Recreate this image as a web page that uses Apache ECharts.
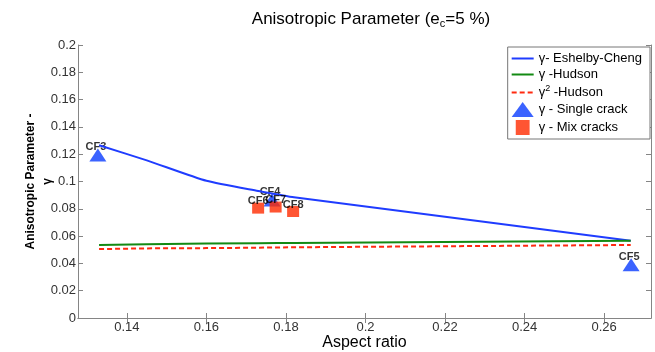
<!DOCTYPE html>
<html>
<head>
<meta charset="utf-8">
<script src="https://cdn.jsdelivr.net/npm/echarts@6/dist/echarts.min.js"></script>
<style>
  html, body { margin: 0; padding: 0; background: #fff; overflow: hidden; }
  #chart { width: 655px; height: 352px; }
</style>
</head>
<body>
<div id="chart"></div>
<script>
// model curves (aspect ratio -> gamma)
const curveX = [0.133, 0.145, 0.16, 0.173, 0.178, 0.182, 0.2667];
const eshelbyCheng = [0.1265, 0.1155, 0.1005, 0.093, 0.0905, 0.0885, 0.0566];
const hudson = [0.0535, 0.054, 0.0545, 0.0548, 0.0549, 0.055, 0.0566];
const hudsonSq = [0.0505, 0.051, 0.0512, 0.0515, 0.0517, 0.0518, 0.0535];

// measured samples
const singleNames = ["CF3", "CF4", "CF5"];
const singleX = [0.1327, 0.1765, 0.2668];
const singleY = [0.1195, 0.0865, 0.039];
const mixNames = ["CF6", "CF7", "CF8"];
const mixX = [0.173, 0.1774, 0.1818];
const mixY = [0.0805, 0.0813, 0.078];

const xTicks = [0.14, 0.16, 0.18, 0.2, 0.22, 0.24, 0.26];

const font = "Liberation Sans, Arial, sans-serif";
const zip = (xs, ys) => xs.map((x, i) => [x, ys[i]]);
const pts = (names, xs, ys) => names.map((n, i) => ({ name: n, value: [xs[i], ys[i]] }));

const chart = echarts.init(document.getElementById("chart"));
const ptLabel = {
  show: true,
  formatter: "{b}",
  position: "inside",
  offset: [-2, -8],
  color: "#000",
  fontWeight: "bold",
  fontSize: 11,
  fontFamily: font,
};
const gray = "#858585";
chart.setOption({
  backgroundColor: "#fff",
  animation: false,
  textStyle: { fontFamily: font },
  title: {
    text: "Anisotropic Parameter (e{s|c}=5 %)",
    left: 366,
    textAlign: "center",
    top: 4,
    textStyle: {
      fontSize: 17,
      fontWeight: "normal",
      color: "#000",
      fontFamily: font,
      rich: { s: { fontSize: 11, verticalAlign: "bottom", padding: [9, 0, 0, 0], fontFamily: font, color: "#000" } },
    },
  },
  legend: {
    right: 5,
    top: 47,
    orient: "vertical",
    backgroundColor: "#fff",
    borderColor: "#777",
    borderWidth: 1,
    padding: [5, 8, 4, 3],
    itemGap: 3,
    itemWidth: 22,
    itemHeight: 15,
    textStyle: {
      fontSize: 13,
      color: "#000",
      fontFamily: font,
      rich: { sup: { fontSize: 9, verticalAlign: "top", padding: [0, 0, 8, 0], color: "#000" } },
    },
    formatter: (name) => name === "g2" ? "γ{sup|2} -Hudson" : name,
    data: [
      { name: "γ- Eshelby-Cheng", itemStyle: { opacity: 0 } },
      { name: "γ -Hudson", itemStyle: { opacity: 0 } },
      { name: "g2", itemStyle: { opacity: 0 } },
      { name: "γ - Single crack", icon: "triangle" },
      { name: "γ - Mix cracks", icon: "path://M4,1 L16,1 L16,14 L4,14 Z" },
    ],
  },
  grid: { left: 78, right: 4, top: 45, bottom: 34, outerBoundsMode: "none" },
  xAxis: [
    {
      type: "value",
      min: 0.1277,
      max: 0.2718,
      name: "Aspect ratio",
      nameLocation: "middle",
      nameGap: 17,
      nameMoveOverlap: false,
      nameTextStyle: { fontSize: 16, color: "#000", fontFamily: font },
      axisLine: { lineStyle: { color: gray } },
      axisTick: { inside: true, length: 5, customValues: xTicks, lineStyle: { color: gray } },
      axisLabel: {
        customValues: xTicks,
        color: "#333",
        fontSize: 13,
        margin: 3,
        formatter: (v) => String(+v.toFixed(2)),
      },
      splitLine: { show: false },
    },
    {
      type: "value",
      position: "top",
      min: 0.1277,
      max: 0.2718,
      axisLine: { show: true, lineStyle: { color: gray } },
      axisTick: { show: true, inside: true, length: 5, customValues: xTicks, lineStyle: { color: gray } },
      axisLabel: { show: false },
      splitLine: { show: false },
    },
  ],
  yAxis: [
    {
      type: "value",
      min: 0,
      max: 0.2,
      interval: 0.02,
      name: "Anisotropic Parameter -\nγ",
      nameLocation: "middle",
      nameGap: 22,
      nameMoveOverlap: false,
      nameTextStyle: { fontSize: 12, fontWeight: "bold", color: "#000", fontFamily: font, lineHeight: 17 },
      axisLine: { show: true, lineStyle: { color: gray } },
      axisTick: { show: true, inside: true, length: 5, lineStyle: { color: gray } },
      axisLabel: {
        color: "#333",
        fontSize: 13,
        margin: 2,
        formatter: (v) => String(+v.toFixed(2)),
      },
      splitLine: { show: false },
    },
    {
      type: "value",
      position: "right",
      min: 0,
      max: 0.2,
      interval: 0.02,
      axisLine: { show: true, lineStyle: { color: gray } },
      axisTick: { show: true, inside: true, length: 5, lineStyle: { color: gray } },
      axisLabel: { show: false },
      splitLine: { show: false },
    },
  ],
  series: [
    {
      name: "γ- Eshelby-Cheng",
      type: "line",
      smooth: 0.2,
      symbol: "circle",
      showSymbol: false,
      color: "#1f3cff",
      lineStyle: { width: 2, color: "#1f3cff" },
      data: zip(curveX, eshelbyCheng),
    },
    {
      name: "γ -Hudson",
      type: "line",
      symbol: "circle",
      showSymbol: false,
      color: "#138a13",
      lineStyle: { width: 2, color: "#138a13" },
      data: zip(curveX, hudson),
    },
    {
      name: "g2",
      type: "line",
      symbol: "circle",
      showSymbol: false,
      color: "#ff2a10",
      lineStyle: { width: 2, type: [5, 3], color: "#ff2a10" },
      data: zip(curveX, hudsonSq),
    },
    {
      name: "γ - Single crack",
      type: "scatter",
      symbol: "triangle",
      symbolSize: [17, 13],
      color: "#0a3cff",
      itemStyle: { color: "#0a3cff" },
      label: ptLabel,
      data: pts(singleNames, singleX, singleY),
    },
    {
      name: "γ - Mix cracks",
      type: "scatter",
      symbol: "rect",
      symbolSize: [12, 11],
      color: "#ff2a00",
      itemStyle: { color: "#ff2a00" },
      label: Object.assign({}, ptLabel, { offset: [0, -7] }),
      z: 3,
      data: pts(mixNames, mixX, mixY),
    },
  ],
});
</script>
</body>
</html>
